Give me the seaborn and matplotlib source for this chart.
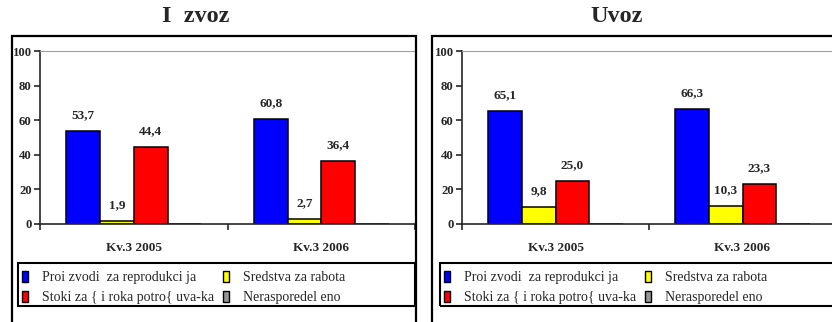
import pandas as pd
import matplotlib
matplotlib.use("Agg")
import matplotlib.pyplot as plt
import seaborn as sns
from matplotlib.patches import Rectangle, Patch
from matplotlib.ticker import FixedLocator

# data
categories = ["Kv.3 2005", "Kv.3 2006"]
series = ["Proi zvodi  za reprodukci ja", "Sredstva za rabota",
          "Stoki za { i roka potro{ uva-ka", "Nerasporedel eno"]
colors = ["#0000FF", "#FFFF00", "#FF0000", "#969696"]

izvoz_proizvodi = [53.7, 60.8]
izvoz_sredstva = [1.9, 2.7]
izvoz_stoki = [44.4, 36.4]
izvoz_neraspredeleno = [0.0, 0.0]

uvoz_proizvodi = [65.1, 66.3]
uvoz_sredstva = [9.8, 10.3]
uvoz_stoki = [25.0, 23.3]
uvoz_neraspredeleno = [0.0, 0.0]

titles = ["I  zvoz", "Uvoz"]


def make_df(a, b, c, d):
    rows = []
    for s, vals in zip(series, [a, b, c, d]):
        for cat, v in zip(categories, vals):
            rows.append({"cat": cat, "series": s, "val": v})
    return pd.DataFrame(rows)


df_izvoz = make_df(izvoz_proizvodi, izvoz_sredstva, izvoz_stoki, izvoz_neraspredeleno)
df_uvoz = make_df(uvoz_proizvodi, uvoz_sredstva, uvoz_stoki, uvoz_neraspredeleno)

sns.set_style("white")
plt.rcParams["font.family"] = ["Liberation Serif", "DejaVu Serif"]

W, H = 832, 322
fig = plt.figure(figsize=(W / 100, H / 100), dpi=100)


def fx(px):
    return px / W


def fy(py):
    return 1 - py / H


# (frame left, frame right, axes left, axes right, legend left, legend right, title x)
layouts = [
    (12, 416, 40, 415, 18, 415, 196),
    (432, 840, 462, 836, 440, 836, 617),
]

for df, title, (fl, fr, al, ar, ll, lr, tx) in zip([df_izvoz, df_uvoz], titles, layouts):
    # outer frame
    fig.patches.append(Rectangle((fx(fl), fy(330)), fx(fr - fl), fy(36) - fy(330),
                                 transform=fig.transFigure, fill=False,
                                 edgecolor="black", linewidth=1.6, zorder=0))
    # legend frame
    fig.patches.append(Rectangle((fx(ll), fy(306)), fx(lr - ll), fy(263) - fy(306),
                                 transform=fig.transFigure, fill=False,
                                 edgecolor="black", linewidth=1.5, zorder=0))
    fig.text(fx(tx), fy(16), title, ha="center", va="center",
             fontsize=17.5, fontweight="bold")

    ax = fig.add_axes([fx(al), fy(224), fx(ar - al), fy(51) - fy(224)])
    sns.barplot(data=df, x="cat", y="val", hue="series", palette=colors,
                width=0.72, edgecolor="black", linewidth=1.1, ax=ax,
                legend=False, saturation=1)
    ax.set_ylim(0, 100)
    ax.set_xlim(-0.5, 1.5)
    ax.set_yticks([0, 20, 40, 60, 80, 100])
    ax.set_xlabel("")
    ax.set_ylabel("")
    ax.spines["right"].set_visible(False)
    ax.spines["top"].set_color("#a0a0a0")
    ax.spines["left"].set_linewidth(1.2)
    ax.spines["bottom"].set_linewidth(1.2)
    ax.tick_params(axis="y", left=True, length=4, width=1.2, pad=2,
                   labelsize=9.2)
    ax.tick_params(axis="x", which="major", length=0, pad=13, labelsize=9.5)
    ax.xaxis.set_minor_locator(FixedLocator([-0.5, 0.5, 1.5]))
    ax.tick_params(axis="x", which="minor", bottom=True, length=4, width=1.2)
    for lab in ax.get_xticklabels() + ax.get_yticklabels():
        lab.set_fontweight("bold")

    for cont in ax.containers[:3]:
        labels = [f"{b.get_height():.1f}".replace(".", ",") for b in cont]
        ax.bar_label(cont, labels=labels, padding=7, fontsize=9.5,
                     fontweight="bold")

    handles = [Patch(facecolor=c, edgecolor="black", linewidth=1.0) for c in colors]
    order = [0, 2, 1, 3]
    leg = ax.legend([handles[i] for i in order], [series[i] for i in order],
                    ncol=2, loc="upper left",
                    bbox_to_anchor=(fx(ll + 2), fy(269)),
                    bbox_transform=fig.transFigure, fontsize=10,
                    handlelength=0.45, handleheight=0.8, handletextpad=1.0,
                    columnspacing=0.6, labelspacing=0.48, borderpad=0.15,
                    borderaxespad=0, frameon=False)

fig.savefig("out.png", dpi=100)
